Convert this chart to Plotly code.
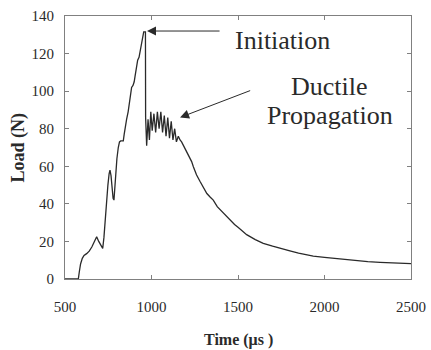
import plotly.graph_objects as go

# Time (microseconds) and load (N)
time_us = [500, 577, 583, 590, 600, 610, 625, 640, 655, 668,
           683, 695, 708, 718, 725, 732, 740, 748, 755, 760,
           766, 772, 778, 783, 788, 793, 800, 808, 815, 822,
           830, 837, 842, 848, 856, 865, 875, 885, 893, 900,
           905, 912, 920, 928, 935, 943, 950, 955, 965,
           966, 972, 980, 988, 996, 1004, 1014, 1024, 1034, 1044,
           1054, 1064, 1074, 1084, 1094, 1104, 1114, 1124, 1134, 1144,
           1155, 1165, 1174, 1185, 1203, 1218, 1232,
           1242, 1260, 1280, 1299, 1320, 1340, 1357, 1380, 1400, 1430,
           1454, 1480, 1500, 1525, 1550, 1600, 1646, 1700, 1743, 1800,
           1850, 1900, 1935, 2000, 2050, 2128, 2200, 2250, 2321, 2400,
           2450, 2500]
load_n = [0, 0, 4, 8, 11, 12.5, 13.5, 14.8, 17, 20,
          22.5, 20, 17.5, 16.3, 22, 32, 44, 50, 56, 58,
          55, 47, 43, 42, 50, 57, 64, 70, 73, 73.5,
          73.5, 73.5, 77, 81, 85, 89, 95, 102, 103, 105,
          108, 113, 116.5, 118, 122, 125.5, 129, 131.5, 131.5,
          86, 71, 85, 74, 89, 79, 88, 78, 89, 80,
          89, 78, 87, 76, 86, 75, 84, 74, 80, 73,
          76, 74, 73, 71, 68, 65, 62.5,
          59.8, 55.5, 52, 49, 45.5, 43.5, 42, 38.5, 36.5, 34,
          31.4, 29, 27.5, 25.5, 23.6, 21, 19, 17.5, 16.3, 15,
          13.8, 12.8, 12.2, 11.5, 11, 10.2, 9.7, 9.3, 8.9, 8.6,
          8.4, 8.2]
assert len(time_us) == len(load_n)

x_ticks = [500, 1000, 1500, 2000, 2500]
y_ticks = [0, 20, 40, 60, 80, 100, 120, 140]

# annotation anchor values (data units)
init_head = (974, 132)
init_tail = (1402, 132)
init_label = (1757, 126.8)
duct_head = (1165, 86)
duct_tail = (1579, 100.6)
duct_label1 = (2031, 102.7)
duct_label2 = (2033, 87.3)

SERIF = "Liberation Serif"
INK = "#2a2a2a"
AXC = "#808080"

fig = go.Figure()
fig.add_trace(go.Scatter(x=time_us, y=load_n, mode="lines",
                         line=dict(color=INK, width=1.3), showlegend=False))

axis_common = dict(showgrid=False, zeroline=False, showline=True, linecolor=AXC,
                   linewidth=1, mirror="ticks", ticks="inside", ticklen=4,
                   tickcolor=AXC, tickwidth=1, automargin=False,
                   tickfont=dict(family=SERIF, size=15, color=INK))

fig.update_xaxes(range=[500, 2500], tickvals=x_ticks, ticktext=[str(v) for v in x_ticks],
                 ticklabelstandoff=14, **axis_common)
fig.update_yaxes(range=[0, 140], tickvals=y_ticks, ticktext=[str(v) for v in y_ticks],
                 ticklabelstandoff=7, **axis_common)

ann = []
ann.append(dict(x=init_head[0], y=init_head[1], ax=init_tail[0], ay=init_tail[1],
                xref="x", yref="y", axref="x", ayref="y", text="", showarrow=True,
                arrowhead=2, arrowsize=1.8, arrowwidth=1, arrowcolor=INK, standoff=0))
ann.append(dict(x=duct_head[0], y=duct_head[1], ax=duct_tail[0], ay=duct_tail[1],
                xref="x", yref="y", axref="x", ayref="y", text="", showarrow=True,
                arrowhead=2, arrowsize=1.8, arrowwidth=1, arrowcolor=INK, standoff=0))
for (lx, ly), txt in [(init_label, "Initiation"), (duct_label1, "Ductile"),
                      (duct_label2, "Propagation")]:
    ann.append(dict(x=lx, y=ly, xref="x", yref="y", text=txt, showarrow=False,
                    xanchor="center", yanchor="middle",
                    font=dict(family=SERIF, size=26, color=INK)))
# axis titles
ann.append(dict(x=0.5, y=0, xref="paper", yref="paper", yshift=-61,
                text="<b>Time (μs )</b>", showarrow=False, xanchor="center", yanchor="middle",
                font=dict(family=SERIF, size=16, color=INK)))
ann.append(dict(x=0, y=0.5, xref="paper", yref="paper", xshift=-47,
                text="<b>Load (N)</b>", showarrow=False, textangle=-90,
                xanchor="center", yanchor="middle",
                font=dict(family=SERIF, size=18, color=INK)))

fig.update_layout(width=431, height=350, margin=dict(l=65, r=20, t=16, b=71),
                  paper_bgcolor="white", plot_bgcolor="white", annotations=ann,
                  font=dict(family=SERIF))

fig.write_html("out.html")
